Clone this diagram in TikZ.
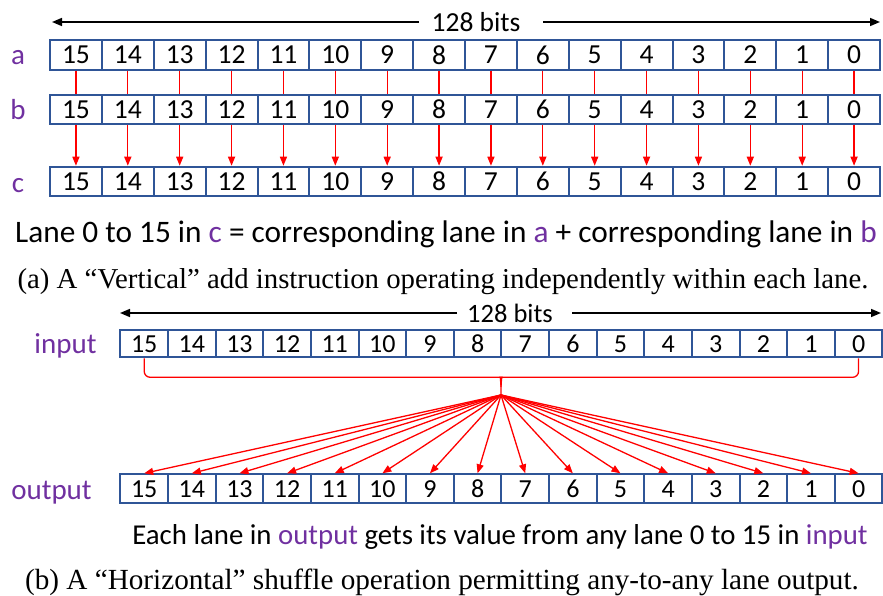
\documentclass[tikz,border=0pt]{standalone}
\usepackage{fontspec}
\setmainfont{Carlito}
\newfontfamily\capfont{Liberation Serif}
\usetikzlibrary{arrows.meta}
\definecolor{boxblue}{RGB}{47,85,151}
\definecolor{lanepurple}{RGB}{112,48,160}
\definecolor{linered}{RGB}{255,0,0}
\begin{document}
\begin{tikzpicture}[x=1pt,y=-1pt,
  topcell/.style={draw=boxblue,line width=2pt,minimum width=51.875pt,minimum height=29.5pt,inner sep=0pt,font=\fontsize{27.5}{30}\selectfont},
  botcell/.style={draw=boxblue,line width=2pt,minimum width=47.625pt,minimum height=#1,inner sep=0pt,font=\fontsize{26}{30}\selectfont},
  rowlabel/.style={text=lanepurple,font=\fontsize{29}{30}\selectfont,anchor=base,inner sep=0pt},
  plaintext/.style={anchor=base,inner sep=0pt,font=\fontsize{#1}{30}\selectfont},
  captext/.style={anchor=base,inner sep=0pt,font=\capfont\fontsize{#1}{30}\selectfont},
  redline/.style={draw=linered,line width=1.3pt},
  redarrow/.style={redline,-{Triangle[length=9pt,width=7pt]}},
  bitarrow/.style={draw=black,line width=1.5pt,-{Triangle[length=10pt,width=8pt]}}]
\useasboundingbox (0,0) rectangle (883,596);

% ---------- (a) ----------
\node[plaintext=27.5] (bitsA) at (476,31.5) {128 bits};
\coordinate (bitsAL) at (419,22);
\coordinate (bitsAR) at (543,22);
\coordinate (tipAL) at (52,22);
\coordinate (tipAR) at (880,22);
\draw[bitarrow] (bitsAL) -- (tipAL);
\draw[bitarrow] (bitsAR) -- (tipAR);

\node[rowlabel] (la) at (18,65) {a};
\node[rowlabel] (lb) at (18,120) {b};
\node[rowlabel] (lc) at (18,193) {c};

\foreach \i in {0,...,15} {
  \pgfmathtruncatemacro\n{15-\i}
  \node[topcell] (a\n) at ({50+51.875*(\i+0.5)},55) {\n};
  \node[topcell] (b\n) at ({50+51.875*(\i+0.5)},109.5) {\n};
  \node[topcell] (c\n) at ({50+51.875*(\i+0.5)},181.5) {\n};
}
\foreach \n in {0,...,15} {
  \draw[redline] (a\n.south) -- (b\n.north);
  \draw[redarrow] (b\n.south) -- (c\n.north);
}

\node[plaintext=31.3] (sumtext) at (446,242) {Lane 0 to 15 in \textcolor{lanepurple}{c} = corresponding lane in \textcolor{lanepurple}{a} + corresponding lane in \textcolor{lanepurple}{b}};
\node[captext=28.8] (capA) at (443,288) {(a) A “Vertical” add instruction operating independently within each lane.};

% ---------- (b) ----------
\node[plaintext=26.5] (bitsB) at (510,322) {128 bits};
\coordinate (bitsBL) at (457,313);
\coordinate (bitsBR) at (572,313);
\coordinate (tipBL) at (120,313);
\coordinate (tipBR) at (881,313);
\draw[bitarrow] (bitsBL) -- (tipBL);
\draw[bitarrow] (bitsBR) -- (tipBR);

\node[rowlabel] (lin) at (65.5,353) {input};
\node[rowlabel] (lout) at (51.5,499) {output};

\foreach \i in {0,...,15} {
  \pgfmathtruncatemacro\n{15-\i}
  \node[botcell=27pt] (in\n) at ({120.4+47.625*(\i+0.5)},343.8) {\n};
  \node[botcell=29pt] (out\n) at ({120.4+47.625*(\i+0.5)},488.8) {\n};
}

\coordinate (hub) at (501,395);
\draw[redline] (in15.south) [rounded corners=6pt] |- (495,377.3) [sharp corners] .. controls (499.5,377.3) and (501,380) .. (501,387) -- (hub);
\draw[redline] (in0.south) [rounded corners=6pt] |- (507,377.3) [sharp corners] .. controls (502.5,377.3) and (501,380) .. (501,387);
\foreach \n in {0,...,15} {
  \draw[redarrow] (hub) -- (out\n.north);
}

\node[plaintext=28.8] (eachtext) at (500,544) {Each lane in \textcolor{lanepurple}{output} gets its value from any lane 0 to 15 in \textcolor{lanepurple}{input}};
\node[captext=29.2] (capB) at (442,589) {(b) A “Horizontal” shuffle operation permitting any-to-any lane output.};
\end{tikzpicture}
\end{document}
